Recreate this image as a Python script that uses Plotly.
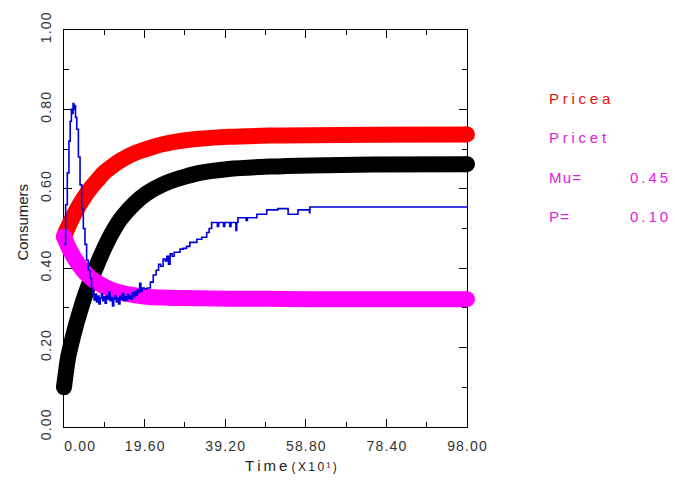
import plotly.graph_objects as go

# ---------------- data ----------------
t_red = [0, 1, 2, 3, 4, 5, 6, 8, 10, 12, 14, 17, 20, 24, 28, 33, 40, 50, 60, 75, 98]
pricea = [0.48, 0.504, 0.526, 0.546, 0.564, 0.58, 0.595, 0.62, 0.643, 0.659, 0.673,
          0.689, 0.70, 0.712, 0.72, 0.726, 0.731, 0.734, 0.735, 0.736, 0.737]

t_black = [0, 0.5, 1, 2, 3, 4, 5, 6, 7, 8, 10, 12, 14, 17, 20, 24, 28, 33, 40, 50, 60, 75, 98]
consumers = [0.10, 0.14, 0.175, 0.22, 0.26, 0.295, 0.328, 0.357, 0.383, 0.408, 0.455, 0.495,
             0.527, 0.562, 0.588, 0.611, 0.626, 0.640, 0.650, 0.656, 0.659, 0.661, 0.662]

t_mag = [0, 1, 2, 3, 4, 5, 6, 7, 8, 10, 12, 14, 17, 20, 24, 28, 33, 40, 50, 60, 75, 98]
pricet = [0.48, 0.455, 0.435, 0.418, 0.403, 0.390, 0.380, 0.371, 0.364, 0.353, 0.344,
          0.338, 0.332, 0.328, 0.326, 0.325, 0.324, 0.323, 0.323, 0.322, 0.322, 0.322]

t_blue = [0, 0.4, 0.8, 1.2, 1.5, 1.8, 2.0, 2.2, 2.4, 2.6, 2.8, 3.1, 3.5, 3.9, 4.3, 4.7,
          5.1, 5.5, 5.9, 6.3, 6.7, 7.0, 7.3, 7.6, 7.9, 8.2, 8.5, 8.8, 9.1, 9.4, 9.7,
          10.0, 10.3, 10.6, 10.9, 11.2, 11.5, 11.8, 12.1, 12.4, 12.7, 13.0, 13.3, 13.6,
          13.9, 14.2, 14.5, 14.8, 15.1, 15.4, 15.7, 16.0, 16.3, 16.6, 16.9, 17.2, 17.5,
          17.8, 18.1, 18.4, 18.7, 19.0, 19.5, 20.2, 21.0, 21.7, 22.4, 23.0, 23.5, 24.1,
          24.6, 25.0, 25.4, 25.8, 26.3, 26.8, 27.5, 28.2, 29.0, 29.8, 30.6, 31.5, 32.3,
          33.0, 33.5, 34.2, 34.7, 35.3, 35.9, 37.0, 37.3, 37.6, 38.5, 38.8, 39.1, 40.0,
          40.3, 40.6, 41.5, 41.8, 42.0, 42.3, 44.0, 44.3, 44.6, 46.9, 49.3, 52.0, 54.5,
          56.9, 59.5, 59.7, 59.8, 98]
sales = [0.46, 0.56, 0.64, 0.72, 0.77, 0.80, 0.79, 0.815, 0.80, 0.81, 0.78, 0.75, 0.68,
         0.61, 0.55, 0.50, 0.46, 0.42, 0.395, 0.375, 0.35, 0.335, 0.32, 0.335, 0.315,
         0.33, 0.31, 0.325, 0.335, 0.318, 0.328, 0.312, 0.33, 0.322, 0.34, 0.318, 0.326,
         0.305, 0.322, 0.33, 0.315, 0.325, 0.31, 0.33, 0.322, 0.336, 0.318, 0.328, 0.32,
         0.334, 0.324, 0.33, 0.322, 0.338, 0.328, 0.34, 0.332, 0.345, 0.338, 0.362, 0.342,
         0.35, 0.348, 0.35, 0.365, 0.383, 0.395, 0.41, 0.405, 0.423, 0.418, 0.43, 0.41,
         0.436, 0.43, 0.44, 0.44, 0.448, 0.45, 0.455, 0.465, 0.465, 0.473, 0.473, 0.478,
         0.478, 0.49, 0.50, 0.515, 0.515, 0.505, 0.515, 0.515, 0.505, 0.515, 0.515, 0.505,
         0.515, 0.515, 0.495, 0.515, 0.527, 0.527, 0.52, 0.527, 0.536, 0.547, 0.550, 0.536,
         0.547, 0.547, 0.54, 0.554, 0.554]

x_tickvals = [0, 19.6, 39.2, 58.8, 78.4, 98]
x_ticktext = ["0.00", "19.60", "39.20", "58.80", "78.40", "98.00"]
y_tickvals = [0, 0.2, 0.4, 0.6, 0.8, 1.0]
y_ticktext = ["0.00", "0.20", "0.40", "0.60", "0.80", "1.00"]

legend_names = ["Pricea", "Pricet", "Mu=", "P="]
legend_values = ["", "", "0.45", "0.10"]
legend_colors = ["#e01010", "#e020e0", "#e020e0", "#e020e0"]
legend_seps = ["\u2005", "\u2005", "\u200a", "\u200a"]


def spaced(s, sep="\u200a"):
    return sep.join(list(s))


W, H = 675, 481
FX0, FX1, FY0, FY1 = 64, 467, 25, 427          # frame box in pixels
PAD = 14                                        # room for the round line ends
L, R, T, B = FX0 - PAD, W - FX1 - PAD, FY0, H - FY1
PW, PH = W - L - R, H - T - B
XMIN, XMAX = 0, 98
k = (FX1 - FX0) / (XMAX - XMIN)
THICK = 16


def px_x(p):
    return (p - L) / PW


def px_y(p):
    return (H - B - p) / PH


fig = go.Figure()

# invisible anchor so that the framed subplot (x, y) gets drawn
fig.add_trace(go.Scatter(x=[x_tickvals[0]], y=[y_tickvals[0]], mode="markers",
                         marker=dict(opacity=0, size=1), xaxis="x", yaxis="y",
                         showlegend=False, hoverinfo="skip"))

thick = [(t_red, pricea, "#ff0000"), (t_black, consumers, "#000000"), (t_mag, pricet, "#ff00ff")]
for tx, vy, col in thick:
    fig.add_trace(go.Scatter(
        x=tx, y=vy, mode="lines", xaxis="x2", yaxis="y2",
        line=dict(color=col, width=THICK, shape="spline", smoothing=1, simplify=False),
        showlegend=False, hoverinfo="skip"))
    # round caps at both ends of the thick band
    fig.add_trace(go.Scatter(
        x=[tx[0], tx[-1]], y=[vy[0], vy[-1]], mode="markers", xaxis="x2", yaxis="y2",
        marker=dict(color=col, size=THICK, opacity=1, line=dict(width=0)),
        cliponaxis=False, showlegend=False, hoverinfo="skip"))

fig.add_trace(go.Scatter(
    x=t_blue, y=sales, mode="lines", xaxis="x2", yaxis="y2",
    line=dict(color="#0000dd", width=1.6, shape="hv", simplify=False),
    showlegend=False, hoverinfo="skip"))

axis_common = dict(showline=True, linecolor="#000", linewidth=1, mirror="allticks",
                   ticks="inside", ticklen=8, tickwidth=1, tickcolor="#000",
                   showgrid=False, zeroline=False, ticklabelstandoff=6,
                   tickfont=dict(family="Liberation Sans, Arial", size=14, color="#333"))

xt = [spaced(s) for s in x_ticktext]
xt[0] = "\u2007\u2007\u2007\u2007" + xt[0]
fig.update_layout(
    xaxis=dict(domain=[PAD / PW, 1 - PAD / PW], range=[XMIN, XMAX], anchor="y",
               tickvals=x_tickvals, ticktext=xt,
               minor=dict(ticks="inside", ticklen=5, tickwidth=1, tickcolor="#000",
                          tick0=0, dtick=9.8),
               **axis_common),
    yaxis=dict(domain=[0, 1], range=[0, 1], anchor="x",
               tickvals=y_tickvals, ticktext=[spaced(s) for s in y_ticktext],
               tickangle=-90,
               minor=dict(ticks="inside", ticklen=5, tickwidth=1, tickcolor="#000",
                          tick0=0, dtick=0.1),
               **axis_common),
    xaxis2=dict(domain=[0, 1], range=[XMIN - PAD / k, XMAX + PAD / k], anchor="y2",
                visible=False, showgrid=False, zeroline=False),
    yaxis2=dict(domain=[0, 1], range=[0, 1], anchor="x2",
                visible=False, showgrid=False, zeroline=False),
)

ann = []
ann.append(dict(x=px_x(23), y=px_y(220), xref="paper", yref="paper", text="Consumers",
                textangle=-90, showarrow=False, xanchor="center", yanchor="middle",
                font=dict(family="Liberation Sans, Arial", size=15, color="#222")))
ann.append(dict(x=px_x(243), y=px_y(466), xref="paper", yref="paper",
                text=spaced("Time", "\u2009") + " <span style='font-size:12px'>"
                + spaced("(X10\u00b9)", "\u2009") + "</span>",
                showarrow=False, xanchor="left", yanchor="middle",
                font=dict(family="Liberation Sans, Arial", size=15, color="#222")))

for i, (nm, val, col, sep) in enumerate(zip(legend_names, legend_values, legend_colors,
                                           legend_seps)):
    yy = 94 + 40 * i
    ann.append(dict(x=px_x(547), y=px_y(yy), xref="paper", yref="paper",
                    text=spaced(nm, sep), showarrow=False, xanchor="left",
                    yanchor="middle",
                    font=dict(family="Liberation Sans, Arial", size=15, color=col)))
    if val:
        ann.append(dict(x=px_x(628), y=px_y(yy), xref="paper", yref="paper",
                        text=spaced(val, "\u2009"), showarrow=False, xanchor="left",
                        yanchor="middle",
                        font=dict(family="Liberation Sans, Arial", size=15, color=col)))

fig.update_layout(width=W, height=H, margin=dict(l=L, r=R, t=T, b=B, pad=0),
                  paper_bgcolor="white", plot_bgcolor="rgba(0,0,0,0)", annotations=ann)

fig.write_html("out.html")
